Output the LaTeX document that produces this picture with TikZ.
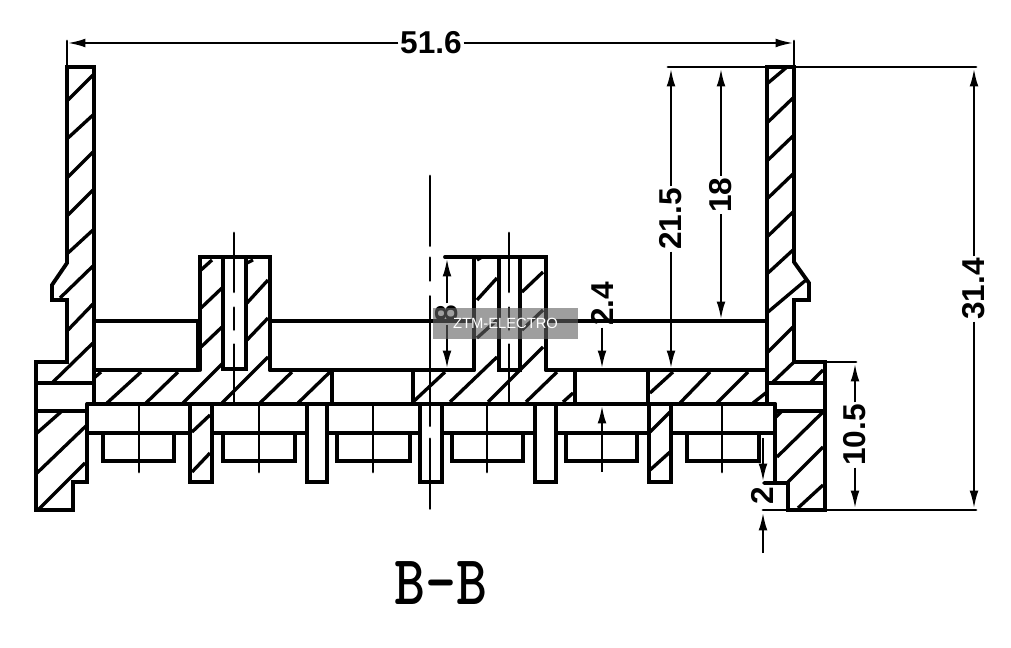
\documentclass[tikz,border=0pt]{standalone}
\usepackage{fontspec}
\setsansfont{Liberation Sans}
\usetikzlibrary{arrows.meta}
\begin{document}
\begin{tikzpicture}[x=0.02cm,y=-0.02cm,
	part/.style={line width=2.2pt, line cap=round, line join=miter, draw=black},
	hatch/.style={line width=1.9pt, line cap=butt, draw=black},
	thinline/.style={line width=1.6pt, line cap=round, draw=black},
	dimarrow/.style={line width=1.5pt, draw=black, -{Latex[length=10.5pt,width=5pt]}},
	dimtext/.style={font=\sffamily\bfseries\fontsize{18}{18}\selectfont, inner sep=1pt, outer sep=0pt, text=black},
	axisshort/.style={thinline, dash pattern=on 33.5pt off 9pt on 12.5pt off 8.5pt on 33pt},
	axislong/.style={thinline, dash pattern=on 39.7pt off 6.8pt on 13pt off 9pt on 73.7pt off 7.4pt on 39.7pt}]
		\useasboundingbox (0,0) rectangle (1011,648);
		% left wall and foot
		\draw[part] (94,404) -- (94,67) -- (67,67) -- (67,263) -- (52,285) -- (52,300) -- (67,300) -- (67,362) -- (36,362) -- (36,510) -- (73,510) -- (73,482) -- (87,482) -- (87,404);
		\draw[part] (36,383) -- (94,383);
		\draw[part] (36,411) -- (87,411);
		% right wall and foot
		\draw[part] (767,404) -- (767,67) -- (794,67) -- (794,262) -- (809,283) -- (809,300) -- (794,300) -- (794,362) -- (825,362) -- (825,510) -- (788,510) -- (788,483) -- (764,483);
		\draw[part] (775,404) -- (775,483);
		\draw[part] (767,383) -- (825,383);
		\draw[part] (775,411) -- (825,411);
		% floor of the housing
		\draw[part] (94,321) -- (200,321);
		\draw[part] (270,321) -- (474,321);
		\draw[part] (546,321) -- (767,321);
		\draw[part] (94,370) -- (198,370);
		\draw[part] (270,370) -- (474,370);
		\draw[part] (546,370) -- (767,370);
		\draw[part] (87,404) -- (775,404);
		\foreach \x in {332,413,575,648} {
			\draw[part] (\x,370) -- (\x,404);
		}
		% two posts with holes
		\draw[part] (198,321) -- (198,370);
		\draw[part] (200,370) -- (200,257) -- (270,257) -- (270,370);
		\draw[part] (223,257) -- (223,369) -- (246,369) -- (246,257);
		\draw[part] (474,370) -- (474,257);
		\draw[part] (445,257) -- (546,257) -- (546,370);
		\draw[part] (499,257) -- (499,370) -- (520,370) -- (520,257);
		% lower bars, pins and cups
		\draw[part] (87,433) -- (190,433);
		\draw[part] (212,433) -- (307,433);
		\draw[part] (327,433) -- (420,433);
		\draw[part] (442,433) -- (535,433);
		\draw[part] (556,433) -- (649,433);
		\draw[part] (671,433) -- (775,433);
		\foreach \a/\b in {190/212,307/327,420/442,535/556,649/671} {
			\draw[part] (\a,404) -- (\a,482) -- (\b,482) -- (\b,404);
		}
		\foreach \a/\b in {103/174,223/295,337/410,452/523,566/637,687/759} {
			\draw[part] (\a,433) -- (\a,461) -- (\b,461) -- (\b,433);
		}
		\foreach \x in {139,259,373,487,722} {
			\draw[thinline] (\x,404) -- (\x,472);
		}
		% centre lines
		\draw[axisshort] (234,233) -- (234,403);
		\draw[axisshort] (509,233) -- (509,403);
		\draw[axislong] (430,176) -- (430,510);
		% section hatching
		\foreach \xa/\ya/\xb/\yb in {68/100/93/75,68/138/93/115,68/177/93/152,68/215/93/190,68/253/93/230,60/298/93/266,68/330/93/304,53/382/93/343,
			37/433/62/411,37/473/87/425,38/510/85/463,94/378/101/372,107/403/141/372,146/403/178/372,183/403/223/363,
			201/270/212/260,201/308/222/288,201/347/222/327,247/263/253/260,247/303/268/280,247/340/268/318,222/403/268/357,
			260/403/292/372,298/403/330/372,192/432/210/415,192/472/210/453,
			413/402/445/372,450/402/497/357,488/402/543/347,526/402/557/372,563/402/573/393,
			477/260/482/257,477/300/497/278,477/338/497/320,522/292/543/272,522/330/543/310,
			650/393/673/372,680/403/710/372,717/403/748/372,753/403/767/392,650/432/670/412,650/470/670/452,
			768/83/787/67,768/122/793/98,768/160/793/136,768/198/793/174,768/236/793/212,768/273/793/250,768/312/806/280,768/352/793/327,
			773/382/794/362,811/382/823/370,776/417/782/411,777/457/823/412,788/482/823/447,798/508/823/485} {
			\draw[hatch] (\xa,\ya) -- (\xb,\yb);
		}
		% extension lines
		\draw[thinline] (67,41) -- (67,67);
		\draw[thinline] (794,41) -- (794,67);
		\draw[thinline] (668,67) -- (976,67);
		\draw[thinline] (825,362) -- (856,362);
		\draw[thinline] (763,510) -- (976,510);
		% dimensions
		\node at (431,43) [dimtext] (len516) {51.6};
		\node at (671,219) [dimtext, rotate=90] (len215) {21.5};
		\node at (721,195) [dimtext, rotate=90] (len18) {18};
		\node at (974,289) [dimtext, rotate=90] (len314) {31.4};
		\node at (855,435) [dimtext, rotate=90] (len105) {10.5};
		\node at (447,314) [dimtext, rotate=90] (len8) {8};
		\node at (602,304) [dimtext, rotate=90] (len24) {2.4};
		\node at (762,496) [dimtext, rotate=90] (len2) {2};
		\coordinate (endLeft) at (67,43);
		\coordinate (endRight) at (794,43);
		\draw[dimarrow] (len516) -- (endLeft);
		\draw[dimarrow] (len516) -- (endRight);
		\coordinate (top215) at (671,68);
		\coordinate (low215) at (671,369);
		\draw[dimarrow] (len215) -- (top215);
		\draw[dimarrow] (len215) -- (low215);
		\coordinate (top18) at (721,68);
		\coordinate (low18) at (721,320);
		\draw[dimarrow] (len18) -- (top18);
		\draw[dimarrow] (len18) -- (low18);
		\coordinate (top314) at (974,68);
		\coordinate (low314) at (974,509);
		\draw[dimarrow] (len314) -- (top314);
		\draw[dimarrow] (len314) -- (low314);
		\coordinate (top105) at (855,363);
		\coordinate (low105) at (855,509);
		\draw[dimarrow] (len105) -- (top105);
		\draw[dimarrow] (len105) -- (low105);
		\coordinate (top8) at (447,258);
		\coordinate (low8) at (447,369);
		\draw[dimarrow] (len8) -- (top8);
		\draw[dimarrow] (len8) -- (low8);
		\coordinate (low24) at (602,369);
		\coordinate (tail24) at (602,472);
		\coordinate (tip24) at (602,405);
		\draw[dimarrow] (len24) -- (low24);
		\draw[dimarrow] (tail24) -- (tip24);
		\coordinate (tail2a) at (763,438);
		\coordinate (tip2a) at (763,482);
		\coordinate (tail2b) at (763,553);
		\coordinate (tip2b) at (763,512);
		\draw[dimarrow] (tail2a) -- (tip2a);
		\draw[dimarrow] (tail2b) -- (tip2b);
		% section name
		\node at (441,583) [xscale=0.84, inner sep=0pt, font=\ttfamily\bfseries\fontsize{40}{40}\selectfont] (secname) {B\textendash B};
		% stamp over the drawing
		\node at (505.5,323.5) [minimum width=2.9cm, minimum height=0.62cm, inner sep=0pt, fill=black!62, fill opacity=0.61, text opacity=1, text=white, font=\sffamily\fontsize{8.4}{8.4}\selectfont] (stamp) {ZTM-ELECTRO};
\end{tikzpicture}
\end{document}
